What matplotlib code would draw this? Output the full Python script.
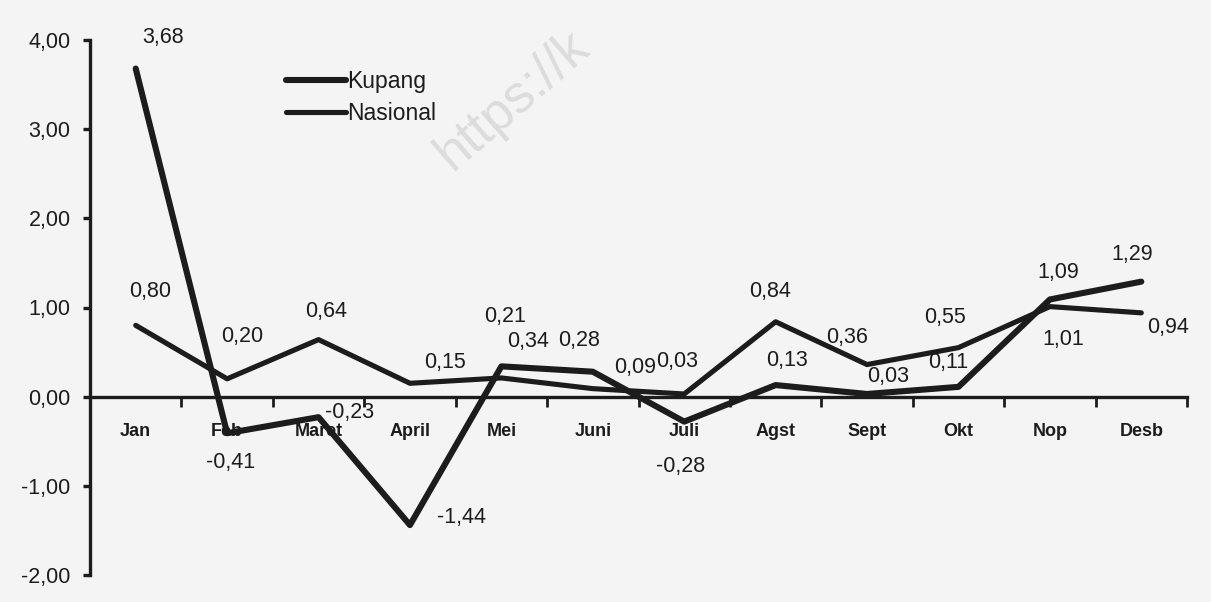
import matplotlib.pyplot as plt
from matplotlib.ticker import FixedLocator, FuncFormatter

# Data (monthly inflation, %)
months = ["Jan", "Feb", "Maret", "April", "Mei", "Juni", "Juli", "Agst", "Sept", "Okt", "Nop", "Desb"]
kupang = [3.68, -0.41, -0.23, -1.44, 0.34, 0.28, -0.28, 0.13, 0.03, 0.11, 1.09, 1.29]
nasional = [0.80, 0.20, 0.64, 0.15, 0.21, 0.09, 0.03, 0.84, 0.36, 0.55, 1.01, 0.94]

# label offsets in pixels (dx, dy) relative to each point
kupang_off = [(27, 31), (3, -29), (31, 5), (52, 8), (27, 25), (-14, 31),
              (-4, -45), (11, 25), (21, 17), (-10, 24), (8, 27), (-9, 27)]
nasional_off = [(14, 34), (15, 42), (8, 28), (35, 21), (4, 61), (42, 21),
                (-7, 32), (-6, 30), (-20, 27), (-13, 30), (13, -33), (27, -15)]

W, H = 1211, 602
fig = plt.figure(figsize=(W / 100, H / 100), dpi=100, facecolor="#f4f4f4")
plt.rcParams['font.family'] = ['Liberation Sans', 'DejaVu Sans']
ax = fig.add_axes([90 / W, 27 / H, (1187 - 90) / W, (575 - 40) / H])
ax.set_facecolor("none")

ink = "#1c1c1c"
x = list(range(len(months)))
ax.plot(x, kupang, color=ink, lw=4.4, solid_capstyle="round", label="Kupang", zorder=3)
ax.plot(x, nasional, color=ink, lw=3.7, solid_capstyle="round", label="Nasional", zorder=3)

def fmt(v):
    return f"{v:.2f}".replace(".", ",")

for series, offs in ((kupang, kupang_off), (nasional, nasional_off)):
    for i, v in enumerate(series):
        ax.annotate(fmt(v), (i, v), xytext=offs[i], textcoords="offset pixels",
                    ha="center", va="center", fontsize=15.5, color=ink)

ax.set_xlim(-0.5, len(months) - 0.5)
ax.set_ylim(-2, 4)

# axes styling
for s in ("top", "right"):
    ax.spines[s].set_visible(False)
ax.spines["bottom"].set_position(("data", 0))
ax.spines["left"].set_linewidth(2.4)
ax.spines["bottom"].set_linewidth(2.4)
ax.spines["left"].set_color(ink)
ax.spines["bottom"].set_color(ink)

ax.set_xticks(x)
ax.set_xticklabels(months, fontsize=13, fontweight="bold", color=ink)
ax.xaxis.set_minor_locator(FixedLocator([i + 0.5 for i in x]))
ax.tick_params(axis="x", which="major", length=0, pad=19)
ax.tick_params(axis="x", which="minor", length=7, width=2, color=ink, direction="out")

ax.set_yticks([-2, -1, 0, 1, 2, 3, 4])
ax.yaxis.set_major_formatter(FuncFormatter(lambda v, p: fmt(v)))
ax.tick_params(axis="y", length=5, width=2.4, color=ink, pad=9, labelsize=15.5, labelcolor=ink)

leg = ax.legend(loc="upper left", bbox_to_anchor=(286 / W, 1 - 70 / H),
                bbox_transform=fig.transFigure, frameon=False, fontsize=16.5,
                handlelength=2.6, handletextpad=0.05, labelspacing=0.38,
                borderpad=0, borderaxespad=0)
for t in leg.get_texts():
    t.set_color(ink)

# faint watermark
fig.text(452 / W, 1 - 172 / H, "https://k", rotation=41,
         rotation_mode="anchor", ha="left", va="baseline", fontsize=38,
         color="#dcdcdc", zorder=0)

fig.savefig("out.png", dpi=100, facecolor=fig.get_facecolor())
